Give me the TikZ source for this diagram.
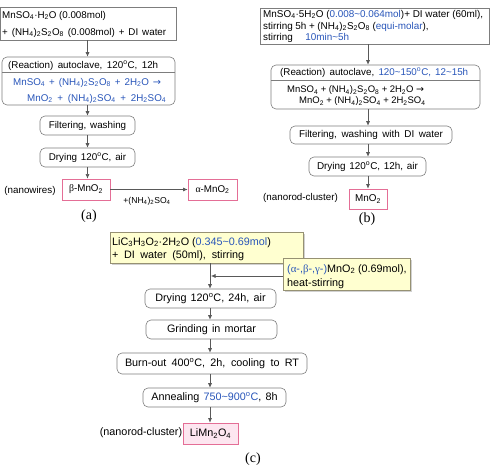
\documentclass[tikz,border=0pt]{standalone}
\usepackage{fontspec}
\setmainfont{Liberation Sans}[WordSpace=1.4]
\newfontfamily\serf{Liberation Serif}
\newfontfamily\djv{DejaVu Sans}
\usetikzlibrary{arrows.meta,shadows}
\definecolor{txtblue}{RGB}{40,85,185}
\definecolor{boxgray}{RGB}{125,125,125}
\definecolor{pinkb}{RGB}{228,110,150}
\definecolor{pinkf}{RGB}{253,230,240}
\definecolor{yelf}{RGB}{255,255,208}
\definecolor{yelb}{RGB}{150,145,115}
\newcommand{\sbs}[1]{\textsubscript{#1}}
\newcommand{\degC}{\textsuperscript{o}C}
\newcommand{\tld}{\textasciitilde}
\newcommand{\bl}[1]{\textcolor{txtblue}{#1}}
\newcommand{\gk}[1]{{\serf #1}}
\newcommand{\rarr}{{\djv →}}
\newcommand{\lw}[2]{\hbox to #1{#2}}
\hbadness=10000 \hfuzz=50pt
\begin{document}
\begin{tikzpicture}[x=1pt,y=-1pt,
  gbox/.style={draw=boxgray,line width=0.6pt,inner sep=0pt},
  rbox/.style={gbox,rounded corners=5pt},
  pbox/.style={draw=pinkb,line width=0.7pt,inner sep=0pt},
  ybox/.style={draw=yelb,line width=0.6pt,fill=yelf,inner sep=0pt,
    drop shadow={shadow xshift=1.5pt,shadow yshift=-1.5pt,fill=black!30,opacity=0.6}},
  txt/.style={inner sep=0pt,anchor=base west},
  ctxt/.style={inner sep=0pt,anchor=base},
  arr/.style={draw=black!65,line width=0.6pt,-{Latex[length=4.5pt,width=4pt]}},
  fa/.style={font=\fontsize{9.8}{12}\selectfont},
  fb/.style={font=\fontsize{9.9}{12}\selectfont},
  fbr/.style={font=\fontsize{9.5}{11}\selectfont},
  fc/.style={font=\fontsize{10.8}{13}\selectfont},
  lab/.style={inner sep=0pt,font=\serf\fontsize{14}{16}\selectfont}]
\useasboundingbox (0,0) rectangle (502,470);

% ---------------- (a) ----------------
\begin{scope}[fa]
\node[gbox,minimum width=175.5pt,minimum height=33pt] (a1) at (88.25,23.5) {};
\node[txt] (a1t1) at (2,18.5) {\lw{101pt}{MnSO\sbs{4}·H\sbs{2}O (0.008mol)}};
\node[txt] (a1t2) at (2,35.5) {\lw{164pt}{+ (NH\sbs{4})\sbs{2}S\sbs{2}O\sbs{8} (0.008mol) + DI water}};
\node[rbox,minimum width=173pt,minimum height=48pt] (a2) at (88.5,81) {};
\draw[boxgray,line width=0.6pt] (2,72) -- (175,72);
\node[txt] (a2t0) at (8,68.5) {\lw{150pt}{(Reaction) autoclave, 120\degC, 12h}};
\node[txt,txtblue] (a2t1) at (13,85.5) {\lw{148pt}{MnSO\sbs{4} + (NH\sbs{4})\sbs{2}S\sbs{2}O\sbs{8} + 2H\sbs{2}O \rarr}};
\node[txt,txtblue] (a2t2) at (27,101.5) {\lw{139pt}{MnO\sbs{2} + (NH\sbs{4})\sbs{2}SO\sbs{4} + 2H\sbs{2}SO\sbs{4}}};
\node[rbox,minimum width=95pt,minimum height=19pt] (a3) at (87.5,125.5) {Filtering, washing};
\node[rbox,minimum width=95pt,minimum height=19pt] (a4) at (87.5,157.5) {Drying 120\degC, air};
\node[pbox,minimum width=48pt,minimum height=21pt] (a5) at (86,189.5) {\gk{β}-MnO\sbs{2}};
\node[pbox,minimum width=49pt,minimum height=21pt] (a6) at (212.5,189.5) {\gk{α}-MnO\sbs{2}};
\node[inner sep=0pt] (a7) at (30,191) {(nanowires)};
\node[inner sep=0pt,font=\fontsize{8.6}{10}\selectfont] (a8) at (147,201) {+(NH\sbs{4})\sbs{2}SO\sbs{4}};
\end{scope}
\node[lab] (la) at (89,216) {(a)};
\draw[arr] (a1.south -| a3) -- (a2.north -| a3);
\draw[arr] (a2.south -| a3) -- (a3.north);
\draw[arr] (a3) -- (a4);
\draw[arr] (a4.south) -- (a5.north -| a4);
\draw[arr] (a5) -- (a6);

% ---------------- (b) ----------------
\begin{scope}[fb]
\node[gbox,minimum width=229pt,minimum height=36pt] (b1) at (374.5,26) {};
\node[txt] (b1t1) at (263,17.5) {\lw{220pt}{MnSO\sbs{4}·5H\sbs{2}O (\bl{0.008\tld0.064mol})+ DI water (60ml),}};
\node[txt] (b1t2) at (263,29.5) {\lw{153pt}{stirring 5h + (NH\sbs{4})\sbs{2}S\sbs{2}O\sbs{8} (\bl{equi-molar}),}};
\node[txt] (b1t3) at (263,41) {\lw{86pt}{stirring \bl{10min\tld5h}}};
\node[rbox,minimum width=209pt,minimum height=44pt] (b2) at (375.5,87) {};
\draw[boxgray,line width=0.6pt] (271,80) -- (480,80);
\node[txt,font=\fontsize{9.8}{12}\selectfont] (b2t0) at (280,75.5) {\lw{188pt}{(Reaction) autoclave, \bl{120\tld150\degC, 12\tld15h}}};
\node[txt,fbr] (b2t1) at (287,93) {\lw{119pt}{MnSO\sbs{4} + (NH\sbs{4})\sbs{2}S\sbs{2}O\sbs{8} + 2H\sbs{2}O \rarr}};
\node[txt,fbr] (b2t2) at (299,104) {\lw{124pt}{MnO\sbs{2} + (NH\sbs{4})\sbs{2}SO\sbs{4} + 2H\sbs{2}SO\sbs{4}}};
\node[rbox,minimum width=162pt,minimum height=18pt] (b3) at (371,135) {\lw{144pt}{Filtering, washing with DI water}};
\node[rbox,minimum width=117pt,minimum height=19pt] (b4) at (367.5,166.5) {\lw{101pt}{Drying 120\degC, 12h, air}};
\node[pbox,minimum width=38pt,minimum height=20pt] (b5) at (368,199) {MnO\sbs{2}};
\node[inner sep=0pt,font=\fontsize{9.8}{12}\selectfont] (b6) at (300.5,198) {(nanorod-cluster)};
\end{scope}
\node[lab] (lb) at (367,219) {(b)};
\coordinate (bx) at (368,0);
\draw[arr] (b1.south -| bx) -- (b2.north -| bx);
\draw[arr] (b2.south -| bx) -- (b3.north -| bx);
\draw[arr] (b3.south -| bx) -- (b4.north -| bx);
\draw[arr] (b4.south -| bx) -- (b5.north -| bx);

% ---------------- (c) ----------------
\begin{scope}[fc]
\node[ybox,minimum width=193pt,minimum height=31pt] (c1) at (206.5,247.5) {};
\node[txt] (c1t1) at (112,245) {\lw{157pt}{LiC\sbs{3}H\sbs{3}O\sbs{2}·2H\sbs{2}O (\bl{0.345\tld0.69mol})}};
\node[txt] (c1t2) at (112,258) {\lw{132pt}{+ DI water (50ml), stirring}};
\node[ybox,minimum width=127pt,minimum height=32pt] (c2) at (346.5,274) {};
\node[txt] (c2t1) at (287,272) {\lw{119pt}{\bl{(\gk{α}-,\gk{β}-,\gk{γ}-)}MnO\sbs{2} (0.69mol),}};
\node[txt] (c2t2) at (287,286) {heat-stirring};
\node[rbox,minimum width=131pt,minimum height=19pt] (c3) at (210.5,298.5) {Drying 120\degC, 24h, air};
\node[rbox,minimum width=131pt,minimum height=19pt] (c4) at (211.5,329.5) {Grinding in mortar};
\node[rbox,minimum width=190pt,minimum height=21pt] (c5) at (212,363.5) {\lw{174pt}{Burn-out 400\degC, 2h, cooling to RT}};
\node[rbox,minimum width=143pt,minimum height=19pt] (c6) at (214.5,397.5) {Annealing \bl{750\tld900\degC}, 8h};
\node[pbox,fill=pinkf,minimum width=55pt,minimum height=21pt] (c7) at (210.5,433.5) {LiMn\sbs{2}O\sbs{4}};
\node[inner sep=0pt] (c8) at (141,432.5) {(nanorod-cluster)};
\end{scope}
\node[lab] (lc) at (253,459) {(c)};
\coordinate (cx) at (210,0);
\coordinate (cj) at (211,276);
\draw[arr] (c1.south -| cx) -- (c3.north -| cx);
\draw[arr] (c2.west |- cj) -- (cj);
\draw[arr] (c3.south -| cx) -- (c4.north -| cx);
\draw[arr] (c4.south -| cx) -- (c5.north -| cx);
\draw[arr] (c5.south -| cx) -- (c6.north -| cx);
\draw[arr] (c6.south -| cx) -- (c7.north -| cx);
\end{tikzpicture}
\end{document}
